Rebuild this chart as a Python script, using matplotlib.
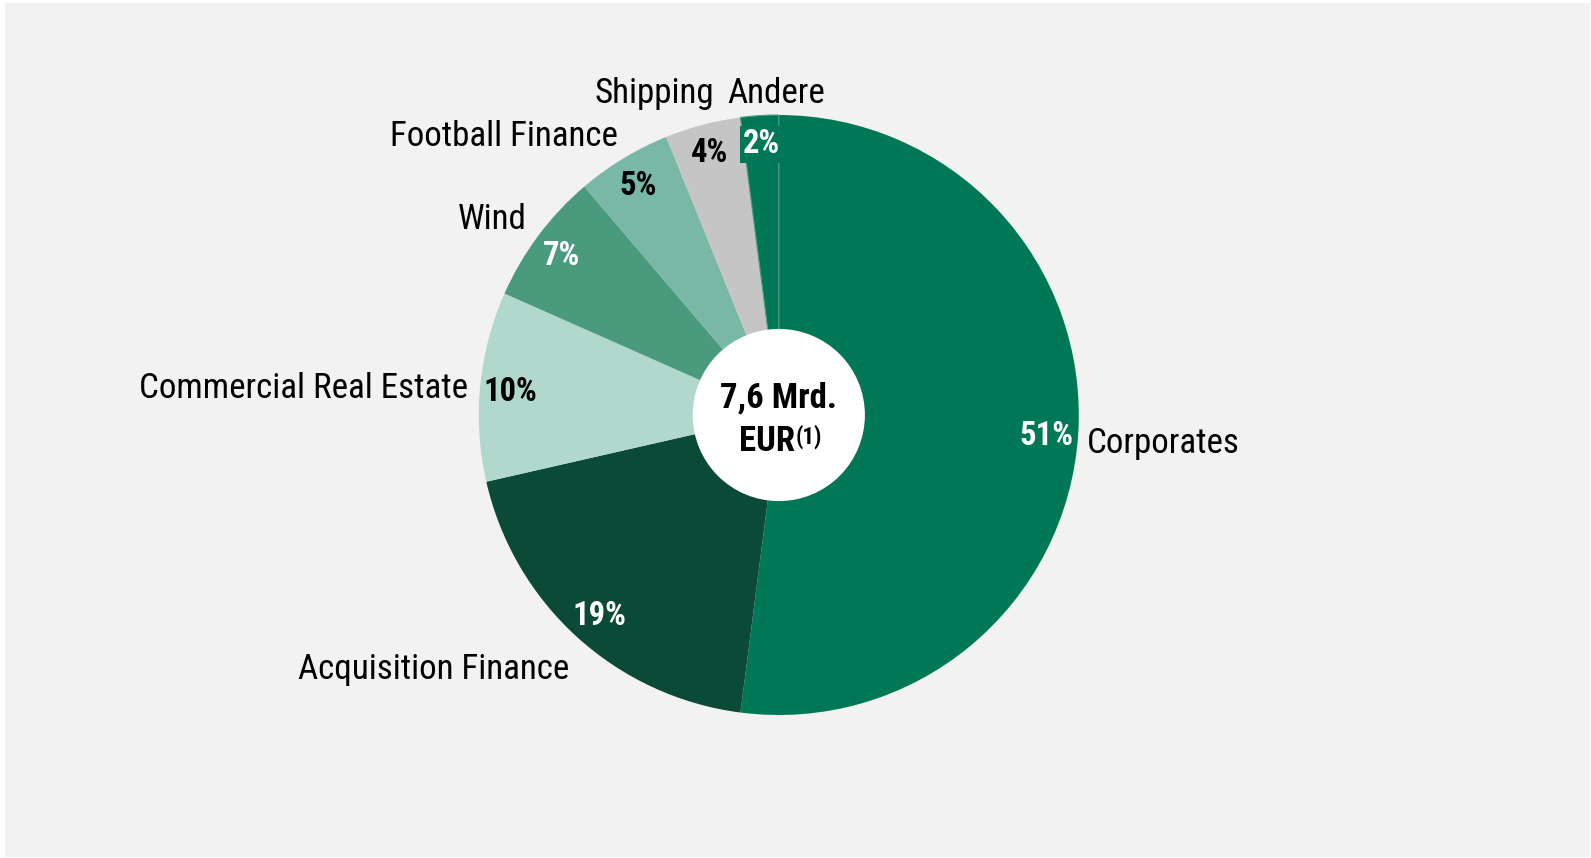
import matplotlib
matplotlib.use("Agg")
import numpy as np
import matplotlib.pyplot as plt
from matplotlib import font_manager
from matplotlib.patches import Rectangle, Circle

# portfolio split, clockwise from 12 o'clock
segments = ["Corporates", "Acquisition Finance", "Commercial Real Estate",
            "Wind", "Football Finance", "Shipping", "Andere"]
shares = [51, 19, 10, 7, 5, 4, 2]
pct_labels = ["51%", "19%", "10%", "7%", "5%", "4%", "2%"]
total_label = "7,6 Mrd."
unit_label = "EUR"
footnote = "(1)"

colors = ["#007856", "#0a4a37", "#b1d8cc", "#4a9b7e", "#79b8a7", "#c5c5c5", "#007856"]
pct_colors = ["white", "white", "black", "white", "black", "black", "white"]
# label placement tweaks (radius factor, angle offset, alignment)
name_dist = [1.03, 1.09, 1.04, 1.07, 1.08, 1.104, 1.096]
name_dang = [-1.0, 2.5, 0.0, -1.5, -1.5, -3.4, 5.3]
name_ha = ["left", "right", "right", "right", "right", "right", "left"]
pct_dist = [0.895, 0.89, 0.90, 0.905, 0.905, 0.914, 0.915]
DY = -0.011  # text sits a touch lower than its nominal centre

# the original uses a narrow sans; take one if present
names = {f.name for f in font_manager.fontManager.ttflist}
narrow = [n for n in ("Liberation Sans Narrow", "Arial Narrow", "Roboto Condensed")
          if n in names]
FONT = narrow + ["Liberation Sans", "DejaVu Sans"]
plt.rcParams["font.family"] = FONT
k = 1.0 if narrow else 0.9  # shrink a bit when only the regular width is around

W, H = 1591, 858
fig = plt.figure(figsize=(W / 100, H / 100), dpi=100, facecolor="white")
fig.patches.append(Rectangle((5 / W, 1 / H), (W - 6) / W, (H - 4) / H,
                             transform=fig.transFigure, facecolor="#f2f2f2",
                             edgecolor="none", zorder=-10))

ax = fig.add_axes([0, 0, 1, 1])
ax.set_facecolor("none")

wedges, _ = ax.pie(shares, colors=colors, startangle=90, counterclock=False,
                   radius=1.0, wedgeprops=dict(linewidth=0))
R = 300.0
cx, cy = 778.8, 858 - 415
ax.set_xlim(-cx / R, (W - cx) / R)
ax.set_ylim(-cy / R, (H - cy) / R)
ax.set_aspect("equal")
ax.axis("off")

# faint seam between Andere and Corporates
wedges[-1].set_edgecolor("#4f9e82")
wedges[-1].set_linewidth(0.8)

for i, w in enumerate(wedges):
    mid = np.deg2rad((w.theta1 + w.theta2) / 2)
    px, py = pct_dist[i] * np.cos(mid), pct_dist[i] * np.sin(mid) + DY
    bbox = None
    if segments[i] == "Andere":
        bbox = dict(boxstyle="square,pad=0.08", facecolor=colors[i], edgecolor="none")
    ax.text(px, py, pct_labels[i], ha="center", va="center", fontsize=23.5 * k,
            fontweight="bold", color=pct_colors[i], bbox=bbox, zorder=5)
    ang = mid + np.deg2rad(name_dang[i])
    nx, ny = name_dist[i] * np.cos(ang), name_dist[i] * np.sin(ang) + DY
    ax.text(nx, ny, segments[i], ha=name_ha[i], va="center", fontsize=25.2 * k,
            color="black")

ax.add_patch(Circle((0, 0), 0.287, facecolor="white", edgecolor="none", zorder=6))
ax.text(0, 0.067 + DY, total_label, ha="center", va="center", fontsize=25 * k,
        fontweight="bold", zorder=7)
eur = ax.text(-0.04, -0.077 + DY, unit_label, ha="center", va="center",
              fontsize=25 * k, fontweight="bold", zorder=7)
ax.annotate(footnote, xy=(1.02, 1.0), xycoords=eur, ha="left", va="top",
            fontsize=16.5 * k, fontweight="bold", zorder=7)

fig.savefig("out.png", dpi=100, facecolor="white")
